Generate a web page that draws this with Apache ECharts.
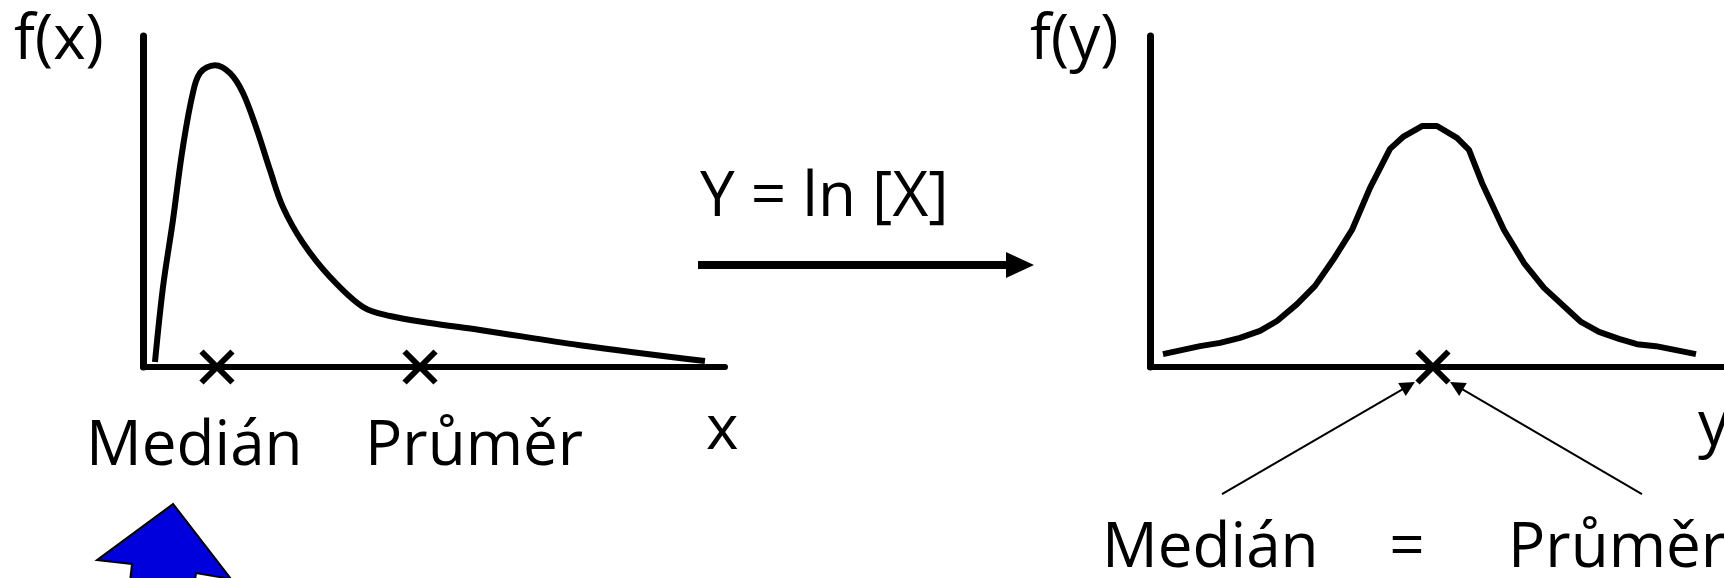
<!DOCTYPE html>
<html>
<head>
<meta charset="utf-8">
<script src="https://cdn.jsdelivr.net/npm/echarts@6/dist/echarts.min.js"></script>
<style>
html,body{margin:0;padding:0;background:#fff;}
#chart{width:1724px;height:578px;}
</style>
</head>
<body>
<div id="chart"></div>
<script>
// Left panel: skewed (log-normal) density f(x), axis units 0..100
const leftCurveX = [2.06, 3.44, 5.15, 6.70, 8.42, 9.79, 12.37, 14.95, 17.18, 19.59, 21.82, 24.05, 27.49, 32.13, 37.80, 42.44, 49.31, 57.90, 75.09, 96.56];
const leftCurveY = [1.5, 24.2, 44.4, 64.7, 81.6, 88.8, 91.2, 88.8, 82.8, 71.6, 59.5, 48.3, 37.5, 27.2, 18.1, 15.4, 13.3, 11.2, 6.6, 1.8];
const leftMarkersX = [12.71, 47.6];          // median, mean
// Right panel: symmetric density f(y)
const rightCurveX = [2.26, 8.71, 12.20, 15.68, 19.16, 22.13, 25.61, 28.75, 31.88, 35.19, 38.33, 41.81, 44.08, 47.39, 50.0, 53.48, 55.57, 57.84, 61.67, 65.16, 68.64, 75.09, 78.22, 81.71, 84.84, 88.15, 95.12];
const rightCurveY = [3.9, 6.3, 7.3, 8.8, 10.9, 13.9, 19.0, 24.5, 32.3, 41.4, 54.1, 65.9, 69.5, 72.8, 72.8, 69.2, 65.6, 55.6, 41.4, 31.4, 23.9, 13.6, 10.6, 8.5, 6.9, 6.3, 3.9];
const rightMarkersX = [49.3];                // median = mean
// annotation arrows (right panel, axis units): [fromX, fromY, toX, toY]
const pointerArrows = [[12.54, -38.4, 45.03, -5.68], [85.71, -38.4, 53.40, -5.68]];
// texts
const labelFx = 'f(x)';
const labelFy = 'f(y)';
const labelX = 'x';
const labelY = 'y';
const transformText = 'Y = ln [X]';
const leftLabels = ['Medián', 'Průměr'];
const rightLabels = ['Medián', '=', 'Průměr'];

const FONT = '"Open Sans", Lato, sans-serif';
const FS = 62;
const OFF = 0.31 * FS; // canvas middle -> alphabetic baseline

function zip(xs, ys) { return xs.map((x, i) => [x, ys[i]]); }

function txt(text, x, baseline, align) {
  return {
    type: 'text', x: x, y: baseline - OFF, z: 10,
    style: { text: text, font: FS + 'px ' + FONT, fill: '#000', textAlign: align || 'left', textVerticalAlign: 'middle', verticalAlign: 'middle' }
  };
}

const axisCommon = {
  type: 'value', min: 0, max: 100,
  splitLine: { show: false }, axisTick: { show: false }, axisLabel: { show: false }
};

const crossSymbol = 'path://M0,0L10,10M10,0L0,10';

const chart = echarts.init(document.getElementById('chart'), null, { renderer: 'canvas' });
chart.setOption({
  animation: false,
  backgroundColor: '#fff',
  grid: [
    { left: 143, top: 36, width: 582, height: 331 },
    { left: 1150, top: 36, width: 574, height: 331 }
  ],
  xAxis: [
    Object.assign({}, axisCommon, { gridIndex: 0, axisLine: { show: true, onZero: false, lineStyle: { color: '#000', width: 6 } } }),
    Object.assign({}, axisCommon, { gridIndex: 1, axisLine: { show: true, onZero: false, lineStyle: { color: '#000', width: 6 } } })
  ],
  yAxis: [
    Object.assign({}, axisCommon, { gridIndex: 0, axisLine: { show: true, onZero: false, lineStyle: { color: '#000', width: 7 } } }),
    Object.assign({}, axisCommon, { gridIndex: 1, axisLine: { show: true, onZero: false, lineStyle: { color: '#000', width: 7 } } })
  ],
  series: [
    {
      type: 'line', xAxisIndex: 0, yAxisIndex: 0, data: zip(leftCurveX, leftCurveY),
      smooth: 0.35, showSymbol: false, symbol: 'none', clip: false,
      lineStyle: { color: '#000', width: 6 }
    },
    {
      type: 'line', xAxisIndex: 1, yAxisIndex: 1, data: zip(rightCurveX, rightCurveY),
      smooth: false, showSymbol: false, symbol: 'none', clip: false,
      lineStyle: { color: '#000', width: 6 }
    },
    {
      type: 'scatter', xAxisIndex: 0, yAxisIndex: 0, data: leftMarkersX.map(x => [x, 0]),
      symbol: crossSymbol, symbolSize: 31, clip: false, z: 5,
      itemStyle: { color: 'none', borderColor: '#000', borderWidth: 6, opacity: 1 }
    },
    {
      type: 'scatter', xAxisIndex: 1, yAxisIndex: 1, data: rightMarkersX.map(x => [x, 0]),
      symbol: crossSymbol, symbolSize: 31, clip: false, z: 5,
      itemStyle: { color: 'none', borderColor: '#000', borderWidth: 6, opacity: 1 }
    },
    {
      type: 'lines', coordinateSystem: 'cartesian2d', xAxisIndex: 1, yAxisIndex: 1, clip: false,
      symbol: ['none', 'triangle'], symbolSize: 15,
      lineStyle: { color: '#000', width: 2, opacity: 1 },
      data: pointerArrows.map(a => ({ coords: [[a[0], a[1]], [a[2], a[3]]] }))
    }
  ],
  graphic: [
    txt(labelFx, 14, 61),
    txt(labelFy, 1030, 61),
    txt(transformText, 700, 218),
    txt(leftLabels[0], 86, 467),
    txt(leftLabels[1], 365, 467),
    txt(labelX, 706, 451),
    txt(labelY, 1698, 447),
    txt(rightLabels[0], 1102, 569),
    txt(rightLabels[1], 1407, 569, 'center'),
    txt(rightLabels[2], 1508, 569),
    // transformation arrow
    { type: 'line', shape: { x1: 698, y1: 265, x2: 1010, y2: 265 }, style: { stroke: '#000', lineWidth: 8 }, z: 10 },
    { type: 'polygon', shape: { points: [[1006, 252], [1034, 265], [1006, 278]] }, style: { fill: '#000' }, z: 10 },
    // blue block arrow (bottom left)
    { type: 'polygon', z: 10,
      shape: { points: [[173, 504], [97, 560], [132, 564], [128, 600], [192, 605], [196, 573], [231, 579]] },
      style: { fill: '#0000DC', stroke: '#000', lineWidth: 2, lineJoin: 'miter' } }
  ]
});
</script>
</body>
</html>
